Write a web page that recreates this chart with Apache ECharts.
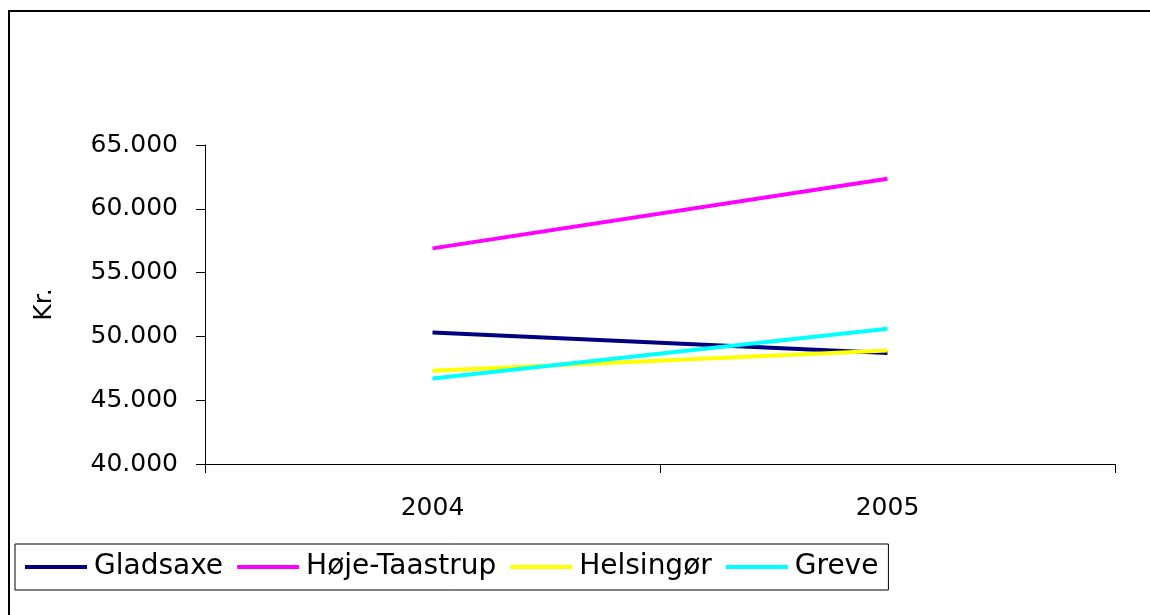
<!DOCTYPE html>
<html>
<head>
<meta charset="utf-8">
<script src="https://cdn.jsdelivr.net/npm/echarts@6/dist/echarts.min.js"></script>
<style>html,body{margin:0;padding:0;background:#fff}#c{width:1150px;height:615px}</style>
</head>
<body>
<div id="c"></div>
<script>
const categories = ['2004', '2005'];
const seriesNames = ['Gladsaxe', 'Høje-Taastrup', 'Helsingør', 'Greve'];
const gladsaxe = [50300, 48700];
const hojeTaastrup = [56900, 62350];
const helsingor = [47300, 48900];
const greve = [46700, 50600];
const colors = ['#000080', '#FF00FF', '#FFFF00', '#00FFFF'];
const yMin = 40000, yMax = 65000, yStep = 5000;

const values = [gladsaxe, hojeTaastrup, helsingor, greve];
const FONT = 'DejaVu Sans';
const chart = echarts.init(document.getElementById('c'), null, {renderer: 'canvas'});
chart.setOption({
  animation: false,
  backgroundColor: '#fff',
  color: colors,
  graphic: [{
    type: 'polyline', silent: true,
    shape: {points: [[9, 640], [9, 11], [1160, 11]]},
    style: {fill: 'none', stroke: '#000', lineWidth: 2}
  }],
  grid: {left: 205, right: 35, top: 145, bottom: 151},
  legend: {
    left: 15, top: 544,
    data: seriesNames,
    icon: 'rect',
    itemWidth: 62, itemHeight: 4, itemGap: 14,
    padding: [8, 10, 8, 10],
    borderColor: '#000', borderWidth: 1,
    textStyle: {fontFamily: FONT, fontSize: 28, color: '#000', lineHeight: 30, padding: [0, 0, 0, 2]}
  },
  xAxis: {
    type: 'category',
    data: categories,
    boundaryGap: true,
    axisLine: {lineStyle: {color: '#000', width: 1}},
    axisTick: {show: true, length: 9, lineStyle: {color: '#000'}},
    axisLabel: {color: '#000', fontFamily: FONT, fontSize: 25, margin: 32},
    splitLine: {show: false}
  },
  yAxis: {
    type: 'value',
    min: yMin, max: yMax, interval: yStep,
    name: 'Kr.',
    nameLocation: 'middle',
    nameGap: 148,
    nameRotate: 90,
    nameTextStyle: {color: '#000', fontFamily: FONT, fontSize: 25},
    axisLine: {show: true, lineStyle: {color: '#000', width: 1}},
    axisTick: {show: true, length: 9, lineStyle: {color: '#000'}},
    axisLabel: {
      color: '#000', fontFamily: FONT, fontSize: 25, margin: 27,
      formatter: v => (v / 1000).toFixed(3)
    },
    splitLine: {show: false}
  },
  series: seriesNames.map((n, i) => ({
    name: n,
    type: 'line',
    data: values[i],
    symbol: 'none',
    lineStyle: {width: 4, color: colors[i]},
    itemStyle: {color: colors[i]}
  }))
});
</script>
</body>
</html>
